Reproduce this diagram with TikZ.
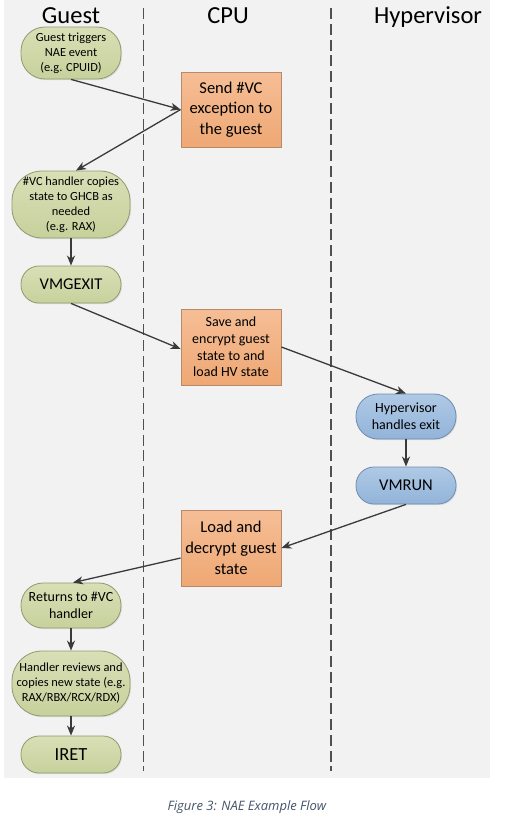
\documentclass[tikz,border=0pt]{standalone}
\usepackage{fontspec}
\setmainfont{Carlito}
\newfontfamily\capfont{Open Sans}
\usetikzlibrary{arrows.meta,shadows}
\definecolor{bgcol}{HTML}{F2F2F2}
\definecolor{lanecol}{HTML}{505050}
\definecolor{arrcol}{HTML}{3A3A3A}
\definecolor{grtop}{HTML}{D9DFB6}
\definecolor{grbot}{HTML}{C7D19C}
\definecolor{grline}{HTML}{8F9B6E}
\definecolor{ortop}{HTML}{F6BE96}
\definecolor{orbot}{HTML}{EEA874}
\definecolor{orline}{HTML}{B98A6A}
\definecolor{bltop}{HTML}{AFC9E5}
\definecolor{blbot}{HTML}{92B4D9}
\definecolor{blline}{HTML}{6E8CAE}
\definecolor{capcol}{HTML}{44546A}
\tikzset{
  base/.style={align=center, inner sep=0pt, text=black,
    drop shadow={opacity=0.18, shadow xshift=1pt, shadow yshift=-1.2pt}},
  gnode/.style={base, draw=grline, line width=0.8pt, top color=grtop, bottom color=grbot},
  bnode/.style={base, draw=blline, line width=0.8pt, top color=bltop, bottom color=blbot},
  onode/.style={base, draw=orline, line width=0.8pt, top color=ortop, bottom color=orbot,
    minimum width=100pt, minimum height=76pt},
  arr/.style={draw=arrcol, line width=1.3pt, -{Stealth[length=10pt,width=8pt,inset=3pt]}},
  lane/.style={draw=lanecol, line width=1.5pt, dash pattern=on 11pt off 4.8pt},
  head/.style={anchor=base, font=\fontsize{24.5}{28}\selectfont},
  fs/.style={font=\fontsize{12.4}{15}\selectfont},
  fm/.style={font=\fontsize{14}{16.7}\selectfont},
  fl/.style={font=\fontsize{16.5}{20.8}\selectfont},
}
\begin{document}
\begin{tikzpicture}[x=1pt,y=-1pt]
\useasboundingbox (0,0) rectangle (504,820);
\fill[bgcol] (4,0) rectangle (490,778);
\draw[lane] (143.3,8) -- (143.3,771);
\draw[lane] (331,8) -- (331,771);
\node[head] (hg) at (71,23) {Guest};
\node[head] (hc) at (228,23) {CPU};
\node[head] (hh) at (428,23) {Hypervisor};

\node[gnode, fs, rounded corners=24pt, minimum width=100pt, minimum height=52pt] (n1) at (71,53)
  {Guest triggers\\NAE event\\(e.g. CPUID)};
\node[onode, fl, minimum height=75pt] (n2) at (231,109.5) {Send \#VC\\exception to\\the guest};
\node[gnode, fs, rounded corners=30pt, minimum width=118pt, minimum height=67pt] (n3) at (71,204.5)
  {\#VC handler copies\\state to GHCB as\\needed\\(e.g. RAX)};
\node[gnode, fl, rounded corners=18pt, minimum width=100pt, minimum height=37pt] (n4) at (71,284.5) {VMGEXIT};
\node[onode, fm] (n5) at (231,347) {Save and\\encrypt guest\\state to and\\load HV state};
\node[bnode, fm, rounded corners=22pt, minimum width=100pt, minimum height=45pt] (n6) at (406,416.5)
  {Hypervisor\\handles exit};
\node[bnode, fl, rounded corners=18pt, minimum width=100pt, minimum height=37pt] (n7) at (406,485.5) {VMRUN};
\node[onode, fl] (n8) at (231,548) {Load and\\decrypt guest\\state};
\node[gnode, fm, rounded corners=22pt, minimum width=100pt, minimum height=45pt] (n9) at (71,605.5)
  {Returns to \#VC\\handler};
\node[gnode, fs, rounded corners=30pt, minimum width=118pt, minimum height=65pt] (n10) at (71,683.5)
  {Handler reviews and\\copies new state (e.g.\\RAX/RBX/RCX/RDX)};
\node[gnode, font=\fontsize{18.5}{22}\selectfont, rounded corners=18pt, minimum width=100pt, minimum height=37pt] (n11) at (71,754.5) {IRET};

\draw[arr] (n1.south) -- (n2.west);
\draw[arr] (n2.west) -- ([xshift=5pt]n3.north);
\draw[arr] (n3) -- (n4);
\draw[arr] (n4.south) -- ([yshift=-2pt]n5.west);
\draw[arr] (n5.east) -- (n6.north);
\draw[arr] (n6) -- (n7);
\draw[arr] (n7.south) -- (n8.east);
\draw[arr] ([yshift=-10pt]n8.west) -- ([xshift=2pt]n9.north);
\draw[arr] (n9) -- (n10);
\draw[arr] (n10) -- (n11);

\node[anchor=base, text=capcol, font=\capfont\itshape\fontsize{13}{15}\selectfont] (cap) at (247,810)
  {Figure 3: NAE Example Flow};
\end{tikzpicture}
\end{document}
